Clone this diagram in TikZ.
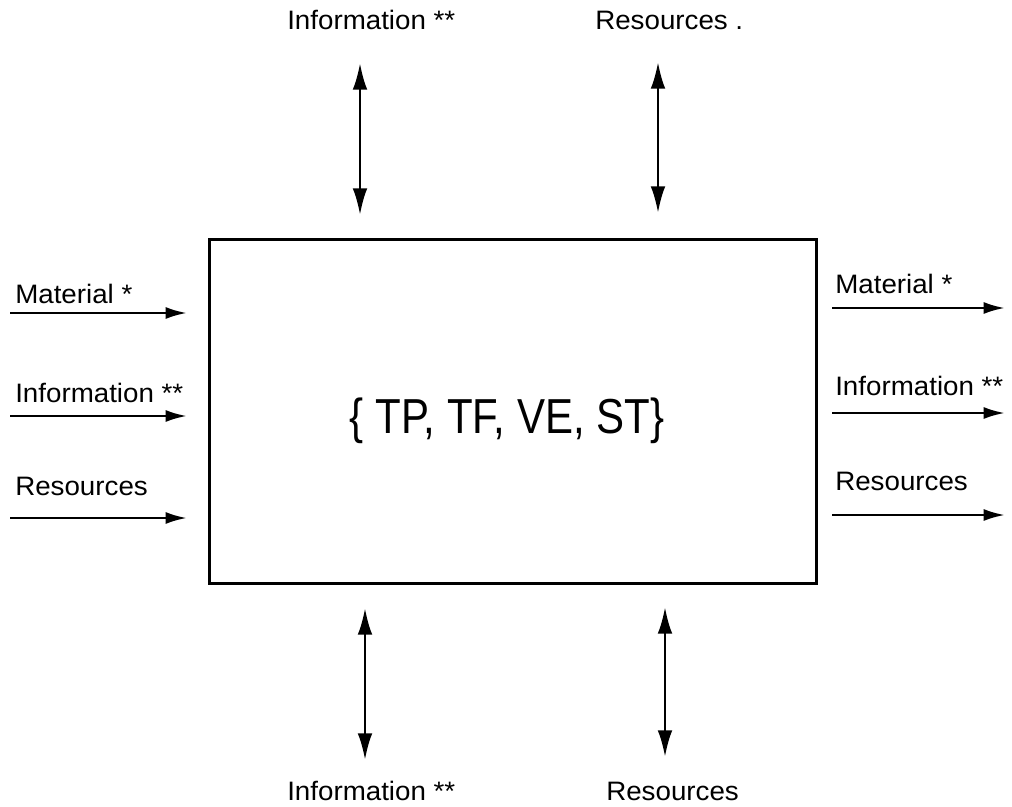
\documentclass[tikz,border=0pt]{standalone}
\usepackage{fontspec}
\setmainfont{Liberation Sans}
\usetikzlibrary{arrows.meta}
\begin{document}
\begin{tikzpicture}[x=0.75pt,y=-0.75pt,
  lbl/.style={inner sep=0pt,font=\fontsize{20}{24}\selectfont},
  flow/.style={line width=2pt,-{Latex[length=16pt,width=9pt]}},
  biflow/.style={line width=2pt,{Latex[length=20pt,width=11pt]}-{Latex[length=20pt,width=11pt]}},
  sysbox/.style={draw,line width=2pt,inner sep=0pt}]
\useasboundingbox (0,0) rectangle (1012,806);
% system box
\node[sysbox,minimum width=607*0.75pt,minimum height=344*0.75pt,anchor=north west] (box) at (208,238) {};
\node[inner sep=0pt,anchor=base,font=\fontsize{31.5}{36}\selectfont] (sys) at (507,433) {\scalebox{1}[1.17]{\{ TP, TF, VE, ST\}}};
% left inputs
\coordinate (li1) at (10,313); \coordinate (lo1) at (187,313);
\coordinate (li2) at (10,416); \coordinate (lo2) at (187,416);
\coordinate (li3) at (10,518); \coordinate (lo3) at (187,518);
\draw[flow] (li1) -- (lo1);
\draw[flow] (li2) -- (lo2);
\draw[flow] (li3) -- (lo3);
\node[lbl,anchor=base west] (lm) at (15,303) {\scalebox{1.04}[1]{Material *}};
\node[lbl,anchor=base west] (li) at (15,402) {\scalebox{1.04}[1]{Information **}};
\node[lbl,anchor=base west] (lr) at (15,495) {\scalebox{1.04}[1]{Resources}};
% right outputs
\coordinate (ri1) at (832,308); \coordinate (ro1) at (1005,308);
\coordinate (ri2) at (832,413); \coordinate (ro2) at (1005,413);
\coordinate (ri3) at (832,515); \coordinate (ro3) at (1005,515);
\draw[flow] (ri1) -- (ro1);
\draw[flow] (ri2) -- (ro2);
\draw[flow] (ri3) -- (ro3);
\node[lbl,anchor=base west] (rm) at (835,293) {\scalebox{1.04}[1]{Material *}};
\node[lbl,anchor=base west] (rinf) at (835,395) {\scalebox{1.04}[1]{Information **}};
\node[lbl,anchor=base west] (rr) at (835,490) {\scalebox{1.04}[1]{Resources}};
% top
\coordinate (t1a) at (360,63); \coordinate (t1b) at (360,215);
\coordinate (t2a) at (658,62); \coordinate (t2b) at (658,213);
\draw[biflow] (t1a) -- (t1b);
\draw[biflow] (t2a) -- (t2b);
\node[lbl,anchor=base west] (ti) at (287,30) {\scalebox{1.04}[1]{Information **}};
\node[lbl,anchor=base west] (tr) at (595,30) {\scalebox{1.04}[1]{Resources .}};
% bottom
\coordinate (b1a) at (365,608); \coordinate (b1b) at (365,760);
\coordinate (b2a) at (665,607); \coordinate (b2b) at (665,757);
\draw[biflow] (b1a) -- (b1b);
\draw[biflow] (b2a) -- (b2b);
\node[lbl,anchor=base west] (bi) at (287,800) {\scalebox{1.04}[1]{Information **}};
\node[lbl,anchor=base west] (br) at (606,800) {\scalebox{1.04}[1]{Resources}};
\end{tikzpicture}
\end{document}
